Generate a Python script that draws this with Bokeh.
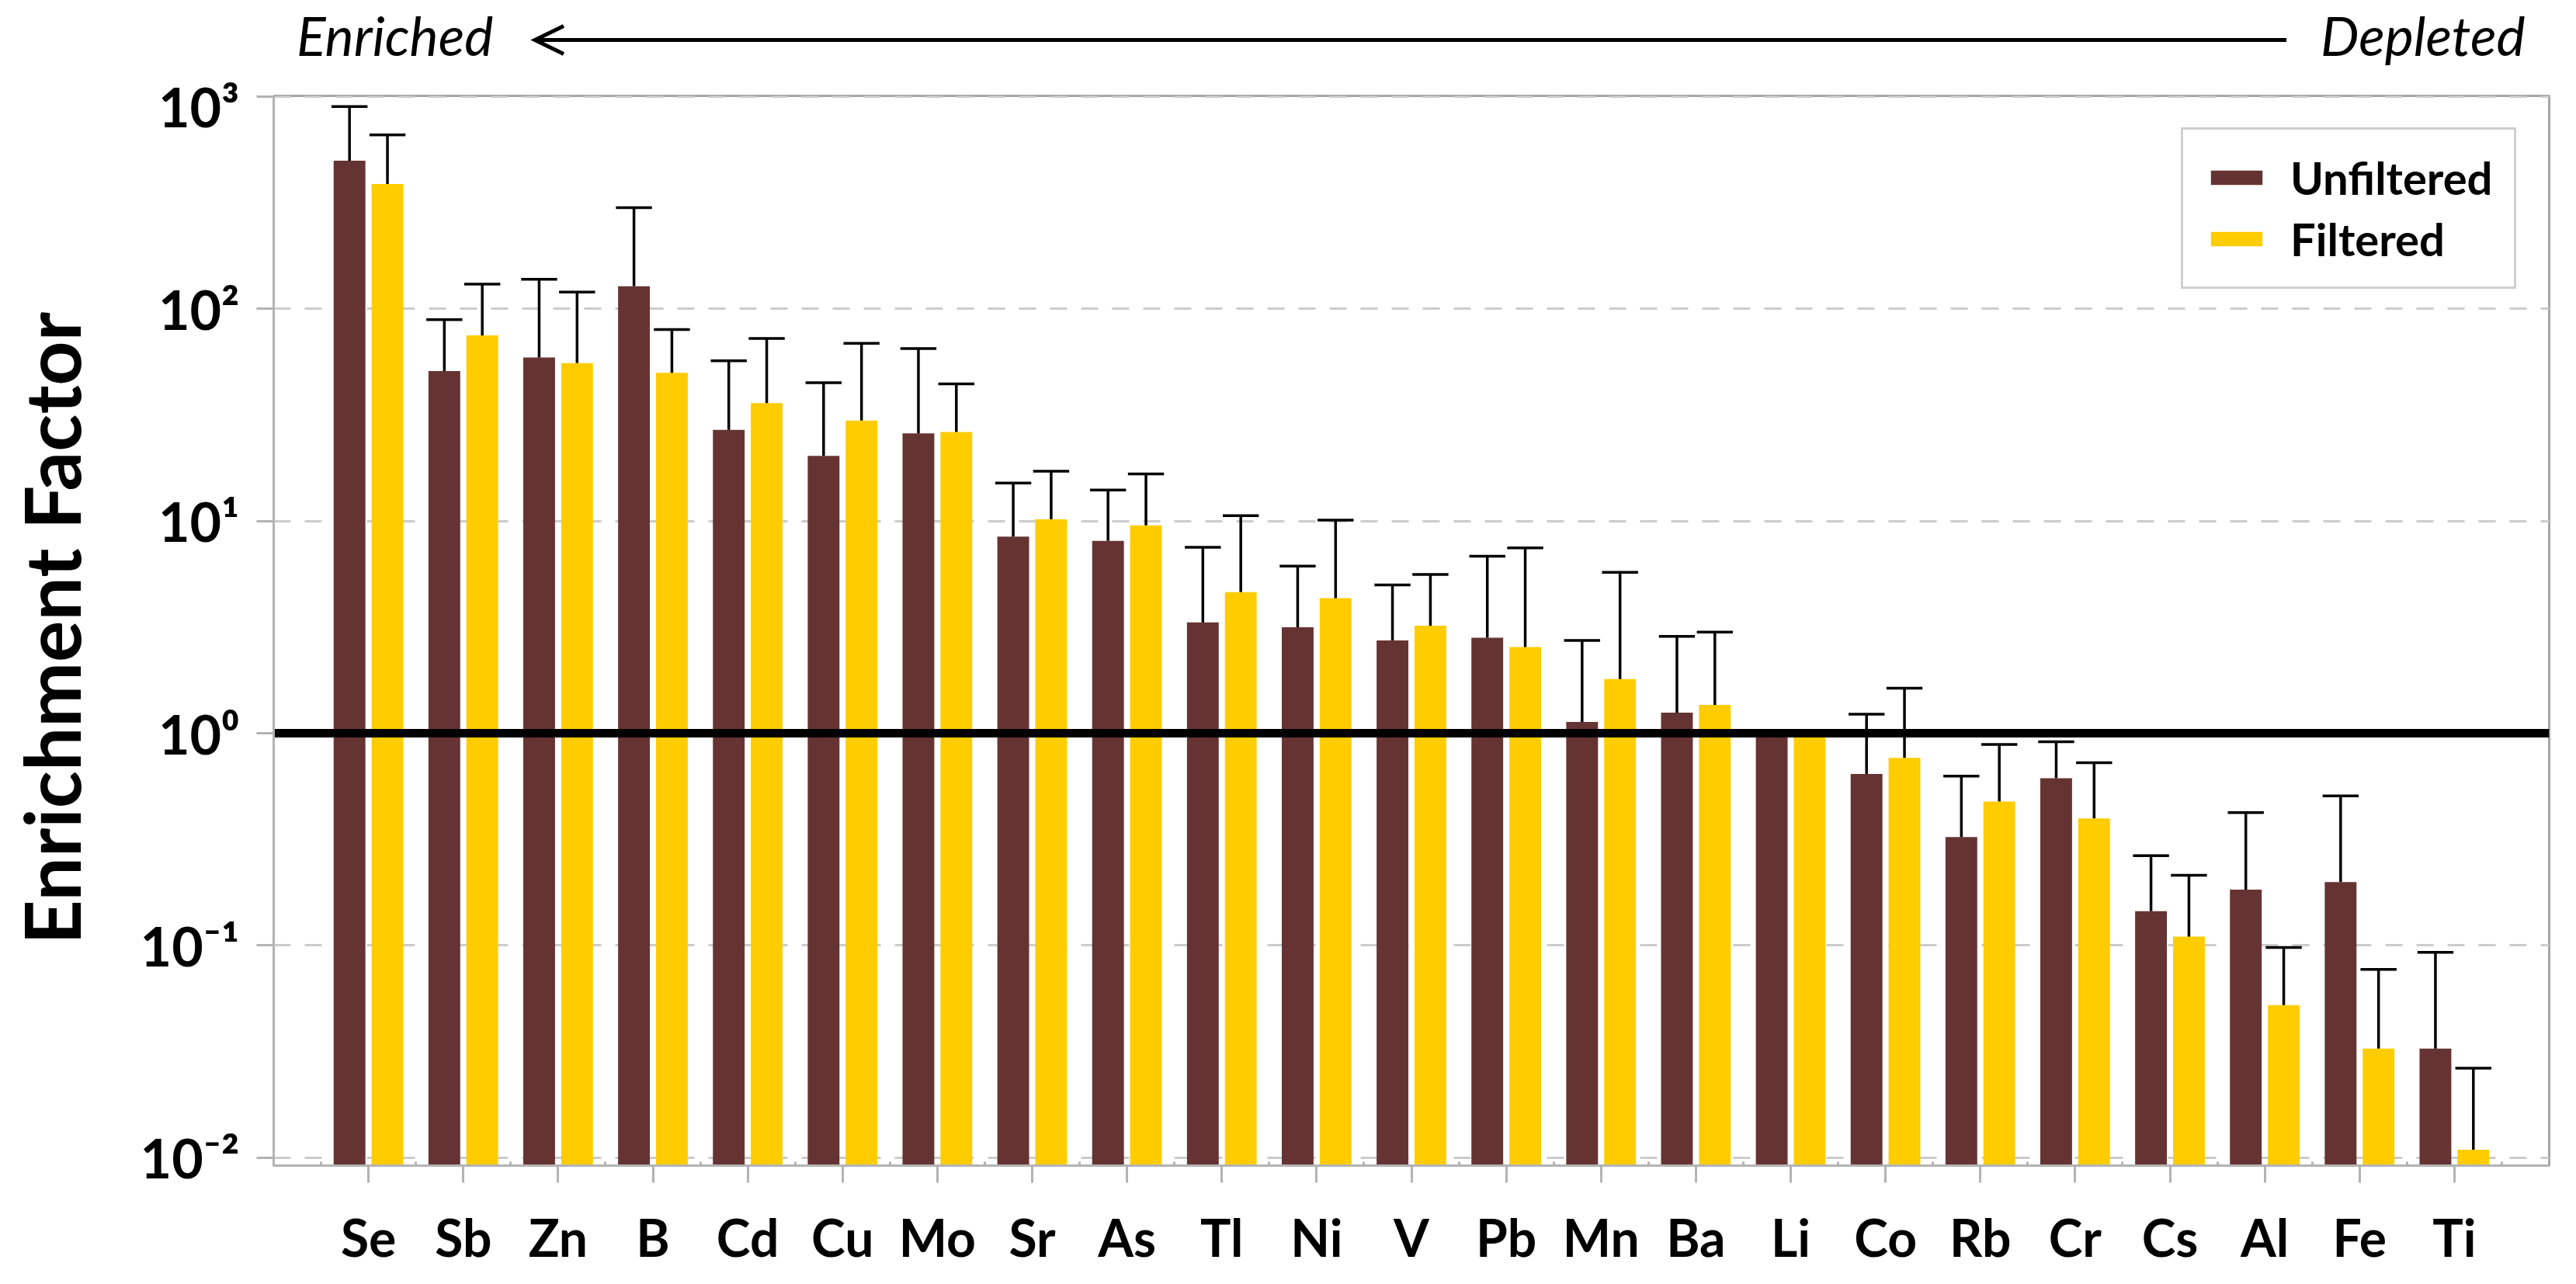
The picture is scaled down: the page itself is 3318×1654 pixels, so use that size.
import numpy as np
from bokeh.plotting import figure
from bokeh.models import (ColumnDataSource, Range1d, FixedTicker, Legend, LegendItem,
                          BasicTickFormatter, Div)
from bokeh.layouts import column, row
from bokeh.transform import dodge
from bokeh.embed import file_html
from bokeh.resources import INLINE

# ---------------- data ----------------
elements = ["Se", "Sb", "Zn", "B", "Cd", "Cu", "Mo", "Sr", "As", "Tl", "Ni", "V",
            "Pb", "Mn", "Ba", "Li", "Co", "Rb", "Cr", "Cs", "Al", "Fe", "Ti"]
unfiltered = [500, 51, 59, 128, 26.9, 20.3, 25.9, 8.45, 8.07, 3.33, 3.16, 2.74,
              2.82, 1.13, 1.25, 1.0, 0.643, 0.324, 0.614, 0.145, 0.183, 0.199, 0.0326]
unfiltered_upper = [900, 89, 138, 300, 57, 44.9, 65, 15.1, 14.0, 7.53, 6.14, 5.0,
                    6.83, 2.74, 2.86, 1.0, 1.23, 0.628, 0.912, 0.265, 0.423, 0.507, 0.0927]
filtered = [388, 75, 55.6, 50, 36, 29.8, 26.3, 10.2, 9.55, 4.63, 4.33, 3.21,
            2.55, 1.80, 1.36, 1.0, 0.766, 0.477, 0.397, 0.110, 0.0523, 0.0326, 0.0109]
filtered_upper = [662, 131, 120, 80, 72.6, 68.9, 44.3, 17.2, 16.7, 10.6, 10.1, 5.6,
                  7.48, 5.73, 3.0, 1.0, 1.63, 0.885, 0.726, 0.214, 0.0977, 0.0771, 0.0264]
y_ticks = [0.01, 0.1, 1, 10, 100, 1000]
y_tick_labels = ["10\u207b\u00b2", "10\u207b\u00b9", "10\u2070", "10\u00b9", "10\u00b2", "10\u00b3"]
series_names = ["Unfiltered", "Filtered"]
reference_level = 1
y_title = "Enrichment Factor"
left_note = "Enriched"
right_note = "Depleted"

# ---------------- styles / layout ----------------
BROWN = "#663333"
YELLOW = "#FFCC00"
GRAY_AXIS = "#b3b3b3"
FONT = "Lato"
Y_MIN = 10 ** -2.038
Y_MAX = 1010
OFF = 0.2
BAR_W = 0.335
CAP_HALF = 0.19
TOTAL_W, TOTAL_H = 3300, 1636
TITLE_W = 122
HEAD_H = 84
MAIN_W = TOTAL_W - TITLE_W

idx = list(range(len(elements)))
src = ColumnDataSource(dict(idx=idx, unf=unfiltered, unf_up=unfiltered_upper,
                            fil=filtered, fil_up=filtered_upper))

# ---------------- y title (vertical HTML text) ----------------
title_div = Div(
    text=('<div style="position:relative;width:%dpx;height:%dpx;">'
          '<div style="position:absolute;left:0px;top:0px;width:120px;height:1608px;'
          'display:flex;align-items:center;justify-content:center;">'
          '<span style="writing-mode:vertical-rl;transform:rotate(180deg);white-space:nowrap;'
          'font-family:Lato;font-weight:bold;font-size:100px;line-height:120px;color:black;">'
          '%s</span></div></div>') % (TITLE_W, TOTAL_H, y_title),
    width=TITLE_W, height=TOTAL_H)

# ---------------- header (Enriched <---- Depleted) ----------------
note_css = ("position:absolute;top:5px;font-family:Lato;font-style:italic;font-size:70px;"
            "line-height:70px;white-space:nowrap;color:black;")
head_div = Div(
    text=('<div style="position:relative;width:%dpx;height:%dpx;">'
          '<span style="left:245px;%s">%s</span>'
          '<span style="left:2852px;%s">%s</span>'
          '<svg width="%d" height="%d" style="position:absolute;left:0;top:0;">'
          '<line x1="2808" y1="46.4" x2="555" y2="46.4" stroke="black" stroke-width="5"/>'
          '<polyline points="589,28.4 552,46.4 589,64.4" fill="none" stroke="black" '
          'stroke-width="5"/></svg></div>')
    % (MAIN_W, HEAD_H, note_css, left_note, note_css, right_note, MAIN_W, HEAD_H),
    width=MAIN_W, height=HEAD_H)

# ---------------- main chart ----------------
p = figure(width=MAIN_W, height=TOTAL_H - HEAD_H, x_range=Range1d(-1, len(elements)),
           y_range=Range1d(Y_MIN, Y_MAX), y_axis_type="log",
           output_backend="svg", toolbar_location=None,
           min_border_left=342 - TITLE_W, min_border_right=27, min_border_top=29,
           min_border_bottom=145)
p.outline_line_color = "#a6a6a6"
p.outline_line_width = 3
p.background_fill_color = "white"

r1 = p.vbar(x=dodge("idx", -OFF, range=p.x_range), top="unf", bottom=Y_MIN, width=BAR_W,
            source=src, fill_color=BROWN, line_color=None)
r2 = p.vbar(x=dodge("idx", OFF, range=p.x_range), top="fil", bottom=Y_MIN, width=BAR_W,
            source=src, fill_color=YELLOW, line_color=None)

# error bars (upper only)
for off, lo, up in [(-OFF, "unf", "unf_up"), (OFF, "fil", "fil_up")]:
    p.segment(x0=dodge("idx", off, range=p.x_range), y0=lo,
              x1=dodge("idx", off, range=p.x_range), y1=up,
              source=src, line_color="black", line_width=3.5)
    p.segment(x0=dodge("idx", off - CAP_HALF, range=p.x_range), y0=up,
              x1=dodge("idx", off + CAP_HALF, range=p.x_range), y1=up,
              source=src, line_color="black", line_width=3.5)

# reference line at EF = 1
p.hspan(y=[reference_level], line_color="black", line_width=11)

# y axis
p.yaxis.ticker = FixedTicker(ticks=y_ticks)
p.yaxis.formatter = BasicTickFormatter()
p.yaxis.major_label_overrides = dict(zip(y_ticks, y_tick_labels))
p.yaxis.axis_line_color = GRAY_AXIS
p.yaxis.axis_line_width = 3
p.yaxis.major_tick_line_color = GRAY_AXIS
p.yaxis.major_tick_line_width = 3
p.yaxis.major_tick_out = 22
p.yaxis.major_tick_in = 0
p.yaxis.minor_tick_line_color = None
p.yaxis.major_label_text_font = FONT
p.yaxis.major_label_text_font_style = "bold"
p.yaxis.major_label_text_font_size = "70px"
p.yaxis.major_label_text_color = "black"
p.yaxis.major_label_standoff = 22

# x axis
p.xaxis.ticker = FixedTicker(ticks=idx, minor_ticks=[i - 0.5 for i in idx] + [idx[-1] + 0.5])
p.xaxis.formatter = BasicTickFormatter()
p.xaxis.major_label_overrides = dict(zip(idx, elements))
p.xaxis.axis_line_color = GRAY_AXIS
p.xaxis.axis_line_width = 3
p.xaxis.major_tick_line_color = GRAY_AXIS
p.xaxis.major_tick_line_width = 3
p.xaxis.major_tick_out = 22
p.xaxis.major_tick_in = 0
p.xaxis.minor_tick_line_color = GRAY_AXIS
p.xaxis.minor_tick_line_width = 3
p.xaxis.minor_tick_in = 5
p.xaxis.minor_tick_out = 0
p.xaxis.major_label_text_font = FONT
p.xaxis.major_label_text_font_style = "bold"
p.xaxis.major_label_text_font_size = "66px"
p.xaxis.major_label_text_color = "black"
p.xaxis.major_label_standoff = 30

# grid
p.xgrid.visible = False
p.ygrid.ticker = FixedTicker(ticks=y_ticks)
p.ygrid.grid_line_color = "#cccccc"
p.ygrid.grid_line_width = 3
p.ygrid.grid_line_dash = "22 18"

# legend
legend = Legend(items=[LegendItem(label=series_names[0], renderers=[r1]),
                       LegendItem(label=series_names[1], renderers=[r2])],
                location=(2457, 1129), border_line_color="#a0a0a0", border_line_width=3,
                padding=27, spacing=10, margin=0,
                label_text_font=FONT, label_text_font_style="bold", label_text_font_size="58px",
                label_text_color="black", glyph_width=83, glyph_height=23, label_standoff=28,
                label_height=58, background_fill_color="white", background_fill_alpha=1)
p.add_layout(legend)

layout = row(title_div, column(head_div, p, spacing=0), spacing=0)
open("out.html", "w").write(file_html(layout, INLINE))
